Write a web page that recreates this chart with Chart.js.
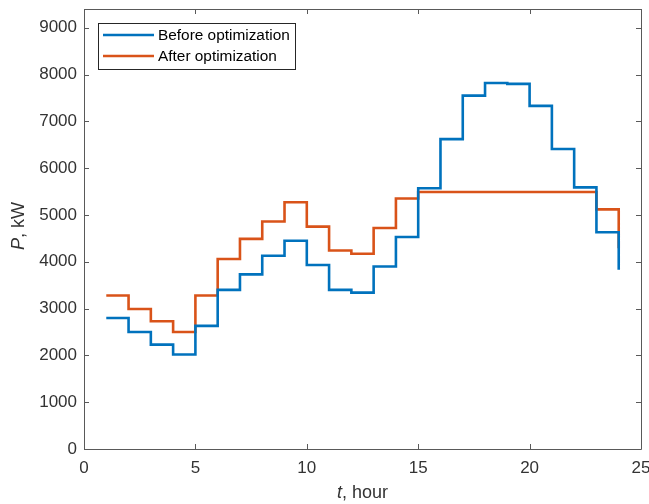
<!DOCTYPE html>
<html>
<head>
<meta charset="utf-8">
<script src="https://cdn.jsdelivr.net/npm/chart.js@4"></script>
<style>
  html, body { margin: 0; padding: 0; background: #fff; }
  #wrap { width: 649px; height: 504px; }
</style>
</head>
<body>
<div id="wrap"><canvas id="chart" width="649" height="504"></canvas></div>
<script>
// hours (stairs: each value holds from t to t+1)
const hours = [1, 2, 3, 4, 5, 6, 7, 8, 9, 10, 11, 12, 13, 14, 15, 16, 17, 18, 19, 20, 21, 22, 23, 24];
const beforeOpt = [2800, 2500, 2230, 2020, 2630, 3400, 3730, 4130, 4450, 3930, 3400, 3340,
                   3900, 4530, 5570, 6620, 7550, 7820, 7800, 7330, 6410, 5590, 4630, 3830];
const afterOpt = [3280, 2990, 2730, 2500, 3280, 4060, 4490, 4860, 5270, 4750, 4240, 4170,
                  4720, 5350, 5490, 5490, 5490, 5490, 5490, 5490, 5490, 5490, 5120, 4290];
const seriesNames = ['Before optimization', 'After optimization'];
const xTicks = [0, 5, 10, 15, 20, 25];
const yTicks = [0, 1000, 2000, 3000, 4000, 5000, 6000, 7000, 8000, 9000];

const FONT = "'Liberation Sans', Arial, sans-serif";
const AXIS_COLOR = '#595959';
const TEXT_COLOR = '#333333';

const toPoints = ys => hours.map((h, i) => ({ x: h, y: ys[i] }));

// box, inward ticks, legend and axis titles in the MATLAB style
const matlabAxes = {
    id: 'matlabAxes',
    afterDraw(chart) {
        const ctx = chart.ctx;
        const a = chart.chartArea;
        const xs = chart.scales.x, ys = chart.scales.y;
        const tl = 5;
        ctx.save();
        ctx.strokeStyle = AXIS_COLOR;
        ctx.lineWidth = 1;
        ctx.beginPath();
        ctx.rect(Math.round(a.left) + 0.5, Math.round(a.top) + 0.5,
                 Math.round(a.right - a.left), Math.round(a.bottom - a.top));
        xTicks.forEach(v => {
            const px = Math.round(xs.getPixelForValue(v)) + 0.5;
            ctx.moveTo(px, a.bottom); ctx.lineTo(px, a.bottom - tl);
            ctx.moveTo(px, a.top); ctx.lineTo(px, a.top + tl);
        });
        yTicks.forEach(v => {
            const py = Math.round(ys.getPixelForValue(v)) + 0.5;
            ctx.moveTo(a.left, py); ctx.lineTo(a.left + tl, py);
            ctx.moveTo(a.right, py); ctx.lineTo(a.right - tl, py);
        });
        ctx.stroke();

        // legend
        const lx = 98, ly = 23, lw = 197, lh = 46;
        ctx.fillStyle = '#fff';
        ctx.fillRect(lx, ly, lw, lh);
        ctx.strokeStyle = '#262626';
        ctx.lineWidth = 1;
        ctx.strokeRect(lx + 0.5, ly + 0.5, lw, lh);
        chart.data.datasets.forEach((ds, i) => {
            const y = ly + 12 + i * 21;
            ctx.strokeStyle = ds.borderColor;
            ctx.lineWidth = 2.5;
            ctx.beginPath();
            ctx.moveTo(lx + 5, y); ctx.lineTo(lx + 56, y);
            ctx.stroke();
            ctx.fillStyle = '#000';
            ctx.font = '15.4px ' + FONT;
            ctx.textBaseline = 'middle';
            ctx.textAlign = 'left';
            ctx.fillText(ds.label, lx + 60, y + 1);
        });

        // axis titles with italic variable letter
        ctx.fillStyle = TEXT_COLOR;
        ctx.textBaseline = 'middle';
        const drawTitle = (parts, cx, cy) => {
            let total = 0;
            parts.forEach(p => { ctx.font = p[1] + ' 18px ' + FONT; total += ctx.measureText(p[0]).width; });
            let x = cx - total / 2;
            ctx.textAlign = 'left';
            parts.forEach(p => {
                ctx.font = p[1] + ' 18px ' + FONT;
                ctx.fillText(p[0], x, cy);
                x += ctx.measureText(p[0]).width;
            });
        };
        drawTitle([['t', 'italic'], [', hour', 'normal']], (a.left + a.right) / 2, 493);
        ctx.translate(19, (a.top + a.bottom) / 2 - 3);
        ctx.rotate(-Math.PI / 2);
        drawTitle([['P', 'italic'], [', kW', 'normal']], 0, 0);
        ctx.restore();
    }
};

new Chart(document.getElementById('chart'), {
    type: 'line',
    data: {
        datasets: [
            { label: seriesNames[0], data: toPoints(beforeOpt), borderColor: '#0072BD' },
            { label: seriesNames[1], data: toPoints(afterOpt), borderColor: '#D95319' }
        ]
    },
    options: {
        responsive: false,
        animation: false,
        events: [],
        layout: { padding: { top: 9, right: 8, left: 0, bottom: 0 } },
        elements: {
            line: { borderWidth: 2.6, stepped: true, fill: false, tension: 0 },
            point: { radius: 0 }
        },
        plugins: { legend: { display: false }, tooltip: { enabled: false } },
        scales: {
            x: {
                type: 'linear', min: 0, max: 25,
                grid: { display: false, drawTicks: false },
                border: { display: false },
                afterBuildTicks: s => { s.ticks = xTicks.map(v => ({ value: v })); },
                afterFit: s => { s.height = 55; s.paddingLeft = 0; s.paddingRight = 0; },
                ticks: { color: TEXT_COLOR, font: { family: FONT, size: 17 }, padding: 9, maxRotation: 0,
                         callback: v => String(v) }
            },
            y: {
                type: 'linear', min: 0, max: 9400,
                grid: { display: false, drawTicks: false },
                border: { display: false },
                afterBuildTicks: s => { s.ticks = yTicks.map(v => ({ value: v })); },
                afterFit: s => { s.width = 84; s.paddingTop = 0; s.paddingBottom = 0; },
                ticks: { color: TEXT_COLOR, font: { family: FONT, size: 17 }, padding: 7,
                         callback: v => String(v) }
            }
        }
    },
    plugins: [matlabAxes]
});
</script>
</body>
</html>
